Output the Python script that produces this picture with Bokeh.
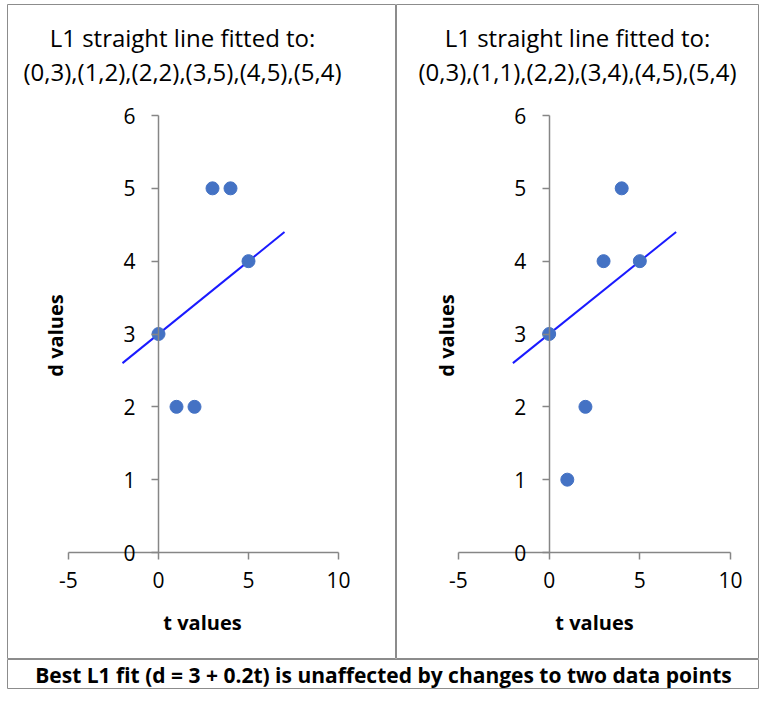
import math
from bokeh.plotting import figure
from bokeh.models import (LinearAxis, FixedTicker, Range1d, Label, ColumnDataSource)
from bokeh.layouts import column, row
from bokeh.embed import file_html
from bokeh.resources import INLINE

# ---------------- data ----------------
t_values = [0, 1, 2, 3, 4, 5]
d_left = [3, 2, 2, 5, 5, 4]
d_right = [3, 1, 2, 4, 5, 4]
fit_t = [-2, 7]
fit_d = [2.6, 4.4]          # best L1 fit d = 3 + 0.2t
x_ticks = [-5, 0, 5, 10]
x_tick_labels = ["-5", "0", "5", "10"]
y_ticks = [0, 1, 2, 3, 4, 5, 6]
title_line1 = "L1 straight line fitted to:"
title_left = "(0,3),(1,2),(2,2),(3,5),(4,5),(5,4)"
title_right = "(0,3),(1,1),(2,2),(3,4),(4,5),(5,4)"
caption = "Best L1 fit (d = 3 + 0.2t) is unaffected by changes to two data points"

FONT = "Open Sans"
MARKER = "#4472C4"
LINE = "#1a1aff"
AXIS = "#868686"
OUTLINE = "#8c8c8c"
TEXT = "#000000"

TOP = 4          # frame top (page px)
BOTTOM = 659     # frame bottom (page px)
Y6, Y0 = 115, 552  # page px of d=6 and d=0


def make_panel(canvas_left, width, pad_left, px_m5, px_10, d_vals, title2, title_cx, dlab_x, tlab_x):
    frame_left = canvas_left + pad_left
    frame_right = canvas_left + width
    sx = (px_10 - px_m5) / 15.0
    sy = (Y0 - Y6) / 6.0

    def tx(px):
        return -5 + (px - px_m5) / sx

    def ty(py):
        return (Y0 - py) / sy

    p = figure(width=width, height=BOTTOM, x_range=Range1d(tx(frame_left), tx(frame_right)),
               y_range=Range1d(ty(BOTTOM), ty(TOP)),
               output_backend="svg", toolbar_location=None,
               min_border_left=pad_left, min_border_top=TOP, min_border_right=0,
               min_border_bottom=0, x_axis_type=None, y_axis_type=None)
    p.outline_line_color = OUTLINE
    p.outline_line_width = 1
    p.background_fill_color = "white"
    p.border_fill_color = "white"

    xa = LinearAxis(fixed_location=0, bounds=(-5, 10), ticker=FixedTicker(ticks=x_ticks),
                    major_label_overrides={k: v for k, v in zip(x_ticks, x_tick_labels)})
    ya = LinearAxis(fixed_location=0, bounds=(0, 6), ticker=FixedTicker(ticks=y_ticks))
    for ax in (xa, ya):
        ax.axis_line_color = AXIS
        ax.axis_line_width = 1.5
        ax.major_tick_line_color = AXIS
        ax.major_tick_line_width = 1.5
        ax.major_tick_out = 7
        ax.major_tick_in = 0
        ax.minor_tick_line_color = None
        ax.major_label_text_font = FONT
        ax.major_label_text_font_size = "21px"
        ax.major_label_text_color = TEXT
    xa.major_label_standoff = 12
    ya.major_label_standoff = 16
    p.add_layout(xa, "below")
    p.add_layout(ya, "left")

    p.line(fit_t, fit_d, line_color=LINE, line_width=2)
    src = ColumnDataSource(dict(t=t_values, d=d_vals))
    p.scatter("t", "d", source=src, size=13, fill_color=MARKER, line_color=MARKER)

    for txt, py in ((title_line1, 37), (title2, 71)):
        p.add_layout(Label(x=tx(title_cx), y=ty(py), text=txt, text_font=FONT,
                           text_font_size="24px", text_align="center",
                           text_baseline="middle", text_color=TEXT))
    p.add_layout(Label(x=tx(dlab_x), y=ty(335), text="d values", text_font=FONT,
                       text_font_size="20px", text_font_style="bold", angle=math.pi / 2,
                       text_align="center", text_baseline="middle", text_color=TEXT))
    p.add_layout(Label(x=tx(tlab_x), y=ty(622), text="t values", text_font=FONT,
                       text_font_size="20px", text_font_style="bold",
                       text_align="center", text_baseline="middle", text_color=TEXT))
    return p


left = make_panel(0, 396, 7, 68, 338, d_left, title_left, 182, 55, 202)
right = make_panel(396, 363, 0, 458, 730, d_right, title_right, 577, 446, 594)

cap = figure(width=759, height=30, x_range=Range1d(0, 1), y_range=Range1d(0, 1),
             output_backend="svg", toolbar_location=None, min_border_left=7,
             min_border_right=0, min_border_top=0, min_border_bottom=0,
             x_axis_type=None, y_axis_type=None)
cap.outline_line_color = OUTLINE
cap.add_layout(Label(x=0.5, y=0.5, text=caption, text_font=FONT, text_font_size="21px",
                     text_font_style="bold", text_align="center", text_baseline="middle",
                     text_color=TEXT))

layout = column(row(left, right), cap)
open("out.html", "w").write(file_html(layout, INLINE))
